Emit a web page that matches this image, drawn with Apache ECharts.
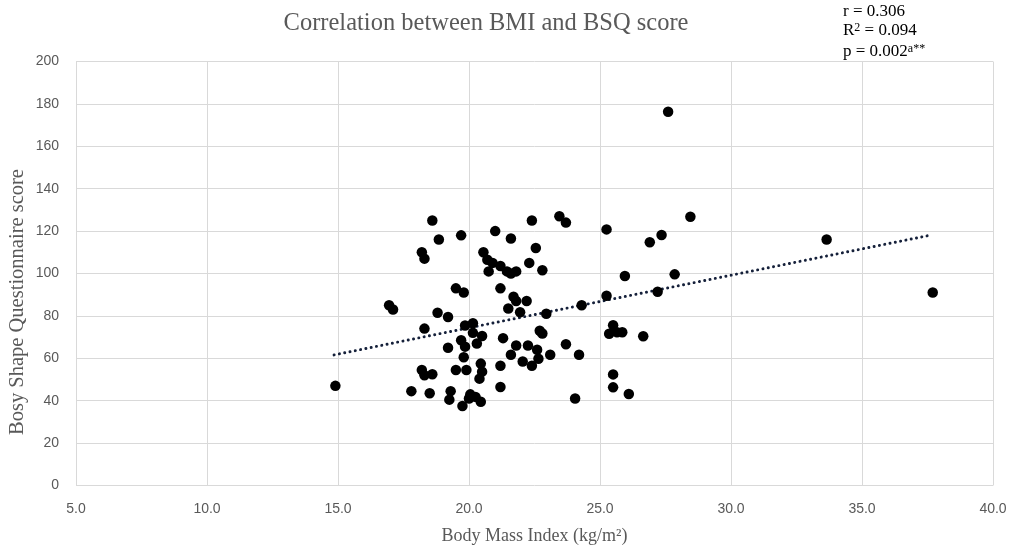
<!DOCTYPE html>
<html>
<head>
<meta charset="utf-8">
<script src="https://cdn.jsdelivr.net/npm/echarts@6/dist/echarts.min.js"></script>
<style>html,body{margin:0;padding:0;background:#fff;}#c{width:1012px;height:546px;}</style>
</head>
<body>
<div id="c"></div>
<script>
const bmi = [14.9,16.95,17.1,17.8,18.2,18.3,18.3,18.2,18.3,18.5,18.6,18.6,18.8,18.85,19.2,19.2,19.3,19.25,19.5,19.5,
  19.7,19.7,19.75,19.8,19.85,19.85,19.8,19.9,20.0,20.05,20.15,20.15,20.25,20.3,20.45,20.5,20.45,20.5,20.4,20.55,
  20.7,20.75,20.9,21.0,21.2,21.2,21.2,21.2,21.3,21.45,21.5,21.6,21.6,21.6,21.7,21.8,21.8,21.8,21.95,22.05,
  22.2,22.25,22.3,22.4,22.4,22.55,22.6,22.65,22.7,22.8,22.8,22.95,23.1,23.45,23.7,23.7,24.05,24.2,24.3,25.25,
  25.25,25.35,25.5,25.65,25.85,25.5,25.5,25.95,26.1,26.65,26.9,27.2,27.35,27.6,27.85,28.45,33.65,37.7];
const bsq = [47,85,83,44.5,110,107,74,54.5,52,43.5,52.5,125,81.5,116,79.5,65,44.5,40.5,93,54.5,
  118,68.5,37.5,91,65.5,75.5,60.5,54.5,41,43,76.5,72,41.8,67,39.5,70.5,57.5,53.7,50.4,110,
  106.5,101,105,120,103.5,93,56.5,46.5,69.5,101,83.5,100,116.5,61.7,89,87,101,66,81.7,58.5,
  87,66,105,125,56.5,112,64,59.8,73,71.7,101.5,81,61.7,127,124,66.6,41,61.7,85,120.8,
  89.5,71.6,75.6,72.3,72.3,52.4,46.3,98.8,43.2,70.4,114.7,91.4,118.2,176.3,99.6,126.8,116,91];
const trendX = [14.85, 37.66];
const trendY = [61.6, 118.2];
const xTicks = {min: 5, max: 40, step: 5};
const yTicks = {min: 0, max: 200, step: 20};

const points = bmi.map((v, i) => [v, bsq[i]]);
const trend = trendX.map((v, i) => [v, trendY[i]]);

const chart = echarts.init(document.getElementById('c'), null, {renderer: 'canvas'});
const serif = 'Liberation Serif';
const grey = '#595959';
chart.setOption({
  animation: false,
  grid: {left: 76, right: 19, top: 61.5, bottom: 60.5, containLabel: false, outerBoundsMode: 'none'},
  xAxis: {
    type: 'value', min: xTicks.min, max: xTicks.max, interval: xTicks.step,
    axisLine: {show: false}, axisTick: {show: false},
    splitLine: {show: true, lineStyle: {color: '#d9d9d9', width: 1}},
    axisLabel: {color: grey, fontFamily: 'Liberation Sans', fontSize: 14, margin: 17,
      formatter: v => v.toFixed(1)},
    name: 'Body Mass Index (kg/m²)', nameLocation: 'middle', nameGap: 42,
    nameTextStyle: {color: grey, fontFamily: serif, fontSize: 18}
  },
  yAxis: {
    type: 'value', min: yTicks.min, max: yTicks.max, interval: yTicks.step,
    axisLine: {show: false}, axisTick: {show: false},
    splitLine: {show: true, lineStyle: {color: '#d9d9d9', width: 1}},
    axisLabel: {color: grey, fontFamily: 'Liberation Sans', fontSize: 14, margin: 17}
  },
  series: [
    {type: 'line', data: trend, symbol: 'none', z: 1,
      lineStyle: {type: [0.1, 5.3], width: 2.9, color: '#15203a', cap: 'round'}},
    {type: 'scatter', data: points, symbol: 'circle', symbolSize: 10.5, z: 2,
      itemStyle: {color: '#000000', opacity: 1}}
  ],
  graphic: [
    {type: 'text', x: 486, y: 24, style: {text: 'Correlation between BMI and BSQ score',
      font: '24.5px "Liberation Serif"', fill: grey, align: 'center', verticalAlign: 'middle'}},
    {type: 'text', x: 18, y: 302, rotation: Math.PI / 2, style: {text: 'Bosy Shape Questionnaire score',
      font: '20.5px "Liberation Serif"', fill: grey, align: 'center', verticalAlign: 'middle'}},
    {type: 'text', x: 843, y: 12, style: {text: 'r = 0.306',
      font: '17px "Liberation Serif"', fill: '#000', align: 'left', verticalAlign: 'middle'}},
    {type: 'text', x: 843, y: 31, style: {text: 'R{s|2} = 0.094', fill: '#000', align: 'left', verticalAlign: 'middle',
      fontFamily: serif, fontSize: 17,
      rich: {s: {fontFamily: serif, fontSize: 12, verticalAlign: 'top', padding: [0, 0, 6, 0]}}}},
    {type: 'text', x: 843, y: 52, style: {text: 'p = 0.002{s|a**}', fill: '#000', align: 'left', verticalAlign: 'middle',
      fontFamily: serif, fontSize: 17,
      rich: {s: {fontFamily: serif, fontSize: 12, verticalAlign: 'top', padding: [0, 0, 6, 0]}}}}
  ]
});
</script>
</body>
</html>
